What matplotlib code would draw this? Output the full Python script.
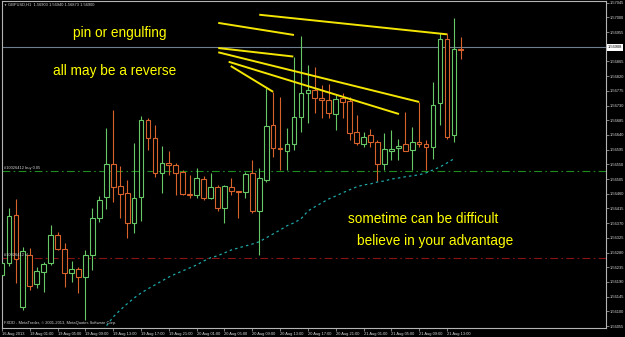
import matplotlib
matplotlib.use("Agg")
import matplotlib.pyplot as plt
import matplotlib.transforms as mtransforms
import numpy as np

# GBPUSD H1 bars, 16 Aug 2013 21:00 .. 21 Aug 2013 15:00
opens = [1.56212, 1.56248, 1.56395, 1.56114, 1.56273, 1.56184, 1.56221, 1.56248, 1.56334, 1.56291,
         1.56218, 1.56230, 1.56205, 1.56273, 1.56386, 1.56450, 1.56551, 1.56484, 1.56463, 1.56371,
         1.56450, 1.56686, 1.56631, 1.56524, 1.56554, 1.56548, 1.56527, 1.56459, 1.56456, 1.56505,
         1.56447, 1.56481, 1.56417, 1.56481, 1.56469, 1.56466, 1.56524, 1.56407, 1.56502, 1.56671,
         1.56600, 1.56591, 1.56613, 1.56695, 1.56769, 1.56778, 1.56753, 1.56747, 1.56704, 1.56753,
         1.56744, 1.56649, 1.56613, 1.56640, 1.56619, 1.56551, 1.56591, 1.56600, 1.56613, 1.56594,
         1.56619, 1.56613, 1.56603, 1.56738, 1.56934, 1.56640, 1.56903]
highs = [1.56251, 1.56417, 1.56444, 1.56297, 1.56294, 1.56236, 1.56251, 1.56365, 1.56343, 1.56310,
         1.56254, 1.56236, 1.56288, 1.56417, 1.56453, 1.56662, 1.56717, 1.56545, 1.56502, 1.56616,
         1.56698, 1.56692, 1.56671, 1.56606, 1.56591, 1.56554, 1.56533, 1.56518, 1.56539, 1.56515,
         1.56524, 1.56487, 1.56487, 1.56508, 1.56469, 1.56527, 1.56564, 1.56539, 1.56784, 1.56772,
         1.56756, 1.56662, 1.56879, 1.56943, 1.56854, 1.56848, 1.56793, 1.56796, 1.56762, 1.56769,
         1.56756, 1.56701, 1.56649, 1.56658, 1.56625, 1.56646, 1.56655, 1.56628, 1.56710, 1.56665,
         1.56741, 1.56625, 1.56802, 1.56952, 1.56952, 1.56998, 1.56940]
lows = [1.56205, 1.56239, 1.56187, 1.56104, 1.56166, 1.56172, 1.56159, 1.56242, 1.56288, 1.56175,
        1.56190, 1.56156, 1.56074, 1.56227, 1.56374, 1.56414, 1.56435, 1.56386, 1.56325, 1.56340,
        1.56377, 1.56594, 1.56512, 1.56463, 1.56518, 1.56456, 1.56456, 1.56447, 1.56447, 1.56441,
        1.56444, 1.56407, 1.56371, 1.56456, 1.56386, 1.56447, 1.56401, 1.56273, 1.56496, 1.56573,
        1.56533, 1.56533, 1.56594, 1.56649, 1.56677, 1.56707, 1.56692, 1.56692, 1.56655, 1.56692,
        1.56625, 1.56610, 1.56603, 1.56603, 1.56499, 1.56533, 1.56564, 1.56564, 1.56591, 1.56533,
        1.56603, 1.56533, 1.56567, 1.56671, 1.56628, 1.56619, 1.56873]
closes = [1.56248, 1.56392, 1.56260, 1.56285, 1.56178, 1.56224, 1.56245, 1.56334, 1.56291, 1.56218,
          1.56230, 1.56205, 1.56273, 1.56386, 1.56441, 1.56551, 1.56481, 1.56459, 1.56371, 1.56447,
          1.56686, 1.56631, 1.56524, 1.56554, 1.56548, 1.56524, 1.56459, 1.56456, 1.56508, 1.56447,
          1.56481, 1.56417, 1.56484, 1.56469, 1.56466, 1.56521, 1.56407, 1.56508, 1.56668, 1.56600,
          1.56597, 1.56613, 1.56695, 1.56769, 1.56778, 1.56753, 1.56747, 1.56707, 1.56750, 1.56741,
          1.56646, 1.56616, 1.56634, 1.56619, 1.56551, 1.56597, 1.56597, 1.56606, 1.56591, 1.56619,
          1.56613, 1.56603, 1.56732, 1.56934, 1.56634, 1.56903, 1.56900]

# moving average (dotted cyan), starts at bar 14
ma_start = 14
ma_values = [1.56030, 1.56055, 1.56083, 1.56104, 1.56123, 1.56141, 1.56156, 1.56169, 1.56181, 1.56193,
             1.56205, 1.56215, 1.56224, 1.56233, 1.56242, 1.56254, 1.56264, 1.56270, 1.56279, 1.56288,
             1.56294, 1.56300, 1.56306, 1.56313, 1.56325, 1.56337, 1.56349, 1.56362, 1.56371, 1.56383,
             1.56407, 1.56420, 1.56432, 1.56444, 1.56453, 1.56463, 1.56472, 1.56481, 1.56487, 1.56490,
             1.56496, 1.56499, 1.56505, 1.56508, 1.56512, 1.56515, 1.56518, 1.56524, 1.56533, 1.56542,
             1.56554, 1.56567]

bid_price = 1.56908
entry_price = 1.56531
stop_price = 1.56264

# hand drawn trend lines: (bar, price) -> (bar, price)
trend_lines = [
    ((37.0, 1.57008), (64.0, 1.56948)),
    ((31.1, 1.56983), (42.0, 1.56946)),
    ((31.1, 1.56906), (41.9, 1.56880)),
    ((31.1, 1.56893), (60.0, 1.56741)),
    ((32.6, 1.56864), (57.1, 1.56704)),
    ((32.9, 1.56851), (39.0, 1.56772)),
]

price_ticks = [1.56055, 1.56100, 1.56145, 1.56190, 1.56235, 1.56280, 1.56325, 1.56370, 1.56415,
               1.56460, 1.56505, 1.56550, 1.56595, 1.56640, 1.56685, 1.56730, 1.56775, 1.56820,
               1.56865, 1.56910, 1.56955, 1.57000, 1.57045]
date_ticks = [0, 4, 8, 12, 16, 20, 24, 28, 32, 36, 40, 44, 48, 52, 56, 60, 64]
date_labels = ["16 Aug 2013", "19 Aug 01:00", "19 Aug 05:00", "19 Aug 09:00", "19 Aug 13:00",
               "19 Aug 17:00", "19 Aug 21:00", "20 Aug 01:00", "20 Aug 05:00", "20 Aug 09:00",
               "20 Aug 13:00", "20 Aug 17:00", "20 Aug 21:00", "21 Aug 01:00", "21 Aug 05:00",
               "21 Aug 09:00", "21 Aug 13:00"]

plt.rcParams['font.family'] = ['Liberation Sans', 'DejaVu Sans']
small = 2.9
grey = '#b4b4b4'

fig = plt.figure(figsize=(6.25, 3.37), dpi=100, facecolor='black')
ax = fig.add_axes([2 / 625, 1 - 328 / 337, 604 / 625, 327 / 337])
ax.set_facecolor('black')

o = np.array(opens)
h = np.array(highs)
l = np.array(lows)
c = np.array(closes)
x = np.arange(len(o))
cols = np.where(c >= o, '#66c866', '#d8622c')

ax.vlines(x, l, h, colors=cols, lw=0.8, zorder=2)
ax.bar(x, np.maximum(np.abs(c - o), 0.00001), bottom=np.minimum(o, c), width=0.68,
       facecolor='black', edgecolor=cols, linewidth=0.8, zorder=3)

ma_x = np.arange(ma_start, ma_start + len(ma_values))
ax.plot(ma_x, ma_values, color='#1fa8a8', lw=0.9, ls=(0, (2, 2.5)), zorder=4)

ax.axhline(bid_price, color='#6f7f8f', lw=0.8, zorder=1)
ax.axhline(entry_price, color='#1e8c1e', lw=0.8, ls=(0, (7, 3, 1.5, 3)), zorder=1)
ax.axhline(stop_price, color='#8a1414', lw=0.8, ls=(0, (7, 3, 1.5, 3)), zorder=1)

for (x0, y0), (x1, y1) in trend_lines:
    ax.plot([x0, x1], [y0, y1], color='#f4e600', lw=1.4, zorder=5, solid_capstyle='butt')

# annotations
ytxt = dict(color='#ffff00', fontsize=9.8, zorder=6)
ax.text(10.2, 1.56940, 'pin or engulfing', va='baseline', **ytxt)
ax.text(7.3, 1.56824, 'all may be a reverse', va='baseline', **ytxt)
ax.text(49.8, 1.56371, 'sometime can be difficult', va='baseline', **ytxt)
ax.text(51.0, 1.56303, 'believe in your advantage', va='baseline', **ytxt)

blend = mtransforms.blended_transform_factory(ax.transAxes, ax.transData)
ax.text(0.004, entry_price + 0.00002, '#10026412 buy 0.05', transform=blend,
        fontsize=small, color='#cfcfcf', va='bottom')
ax.text(0.004, stop_price + 0.00002, '#10026412 sl', transform=blend,
        fontsize=small, color='#cfcfcf', va='bottom')
ax.text(1.003, bid_price, '1.56908', transform=blend, fontsize=small, color='black',
        va='center', ha='left', clip_on=False, zorder=10,
        bbox=dict(facecolor='white', edgecolor='none', pad=0.8))
ax.text(0.003, 0.009, 'FXDD - MetaTrader, \u00a9 2001-2013, MetaQuotes Software Corp.',
        transform=ax.transAxes, fontsize=small, color='#d0d0d0', va='bottom')
fig.text(3 / 625, 1 - 5 / 337, '\u25bc', fontsize=2.2, color='#d0d0d0', va='center')
fig.text(8 / 625, 1 - 5 / 337, 'GBPUSD,H1  1.56903 1.56940 1.56873 1.56900',
         fontsize=small, color='#d0d0d0', va='center')

ax.set_xlim(0.1, 86.88)
ax.set_ylim(1.56049, 1.57050)

ax.yaxis.tick_right()
ax.set_yticks(price_ticks)
# the 1.56910 label sits under the current-price box, so leave it blank
ax.set_yticklabels(['' if abs(p - bid_price) < 0.0002 else '%.5f' % p for p in price_ticks])
ax.set_xticks(date_ticks)
ax.set_xticklabels(date_labels, ha='left')
ax.tick_params(axis='both', labelsize=small, labelcolor='#d8d8d8', colors=grey,
               length=2, width=0.5, pad=1)

for s in ax.spines.values():
    s.set_color(grey)
    s.set_linewidth(0.8)

fig.savefig('out.png', dpi=100, facecolor='black')
